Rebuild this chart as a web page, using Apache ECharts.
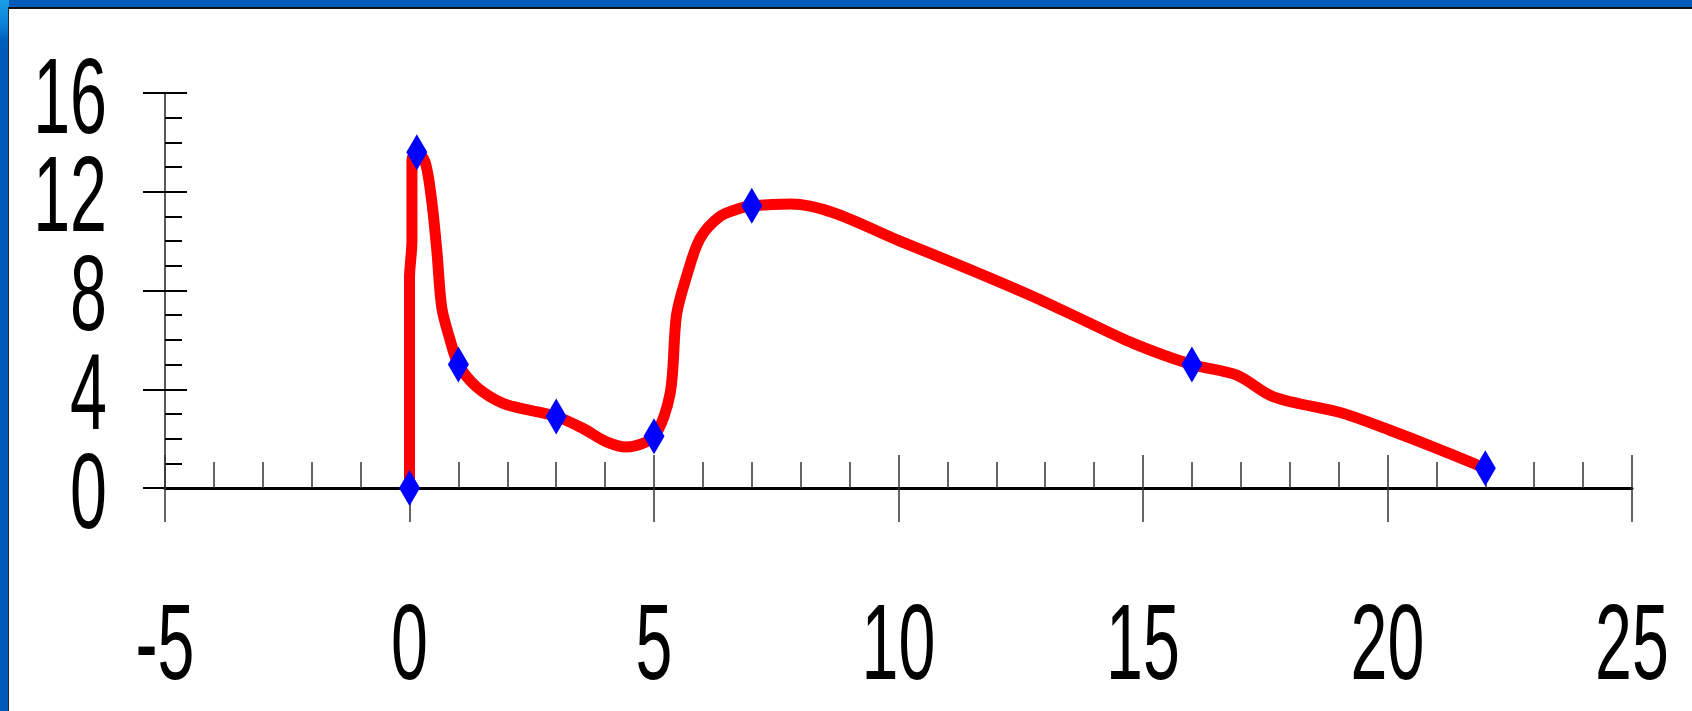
<!DOCTYPE html>
<html>
<head>
<meta charset="utf-8">
<script src="https://cdn.jsdelivr.net/npm/echarts@6/dist/echarts.min.js"></script>
<style>
  html, body { margin: 0; padding: 0; width: 1692px; height: 711px; overflow: hidden; background: #005bbb; }
  #glow { position: absolute; left: 0; top: 0; width: 9px; height: 42px; background: linear-gradient(#1aa0e8, #0a7fd6 60%, #005bbb); }
  #paper { position: absolute; left: 8px; top: 7px; right: 0; bottom: 0; background: #fff;
           border-top: 2px solid #111; border-left: 1px solid #222; }
  #chart { position: absolute; left: 0; top: 0; width: 1692px; height: 711px; }
</style>
</head>
<body>
<div id="glow"></div>
<div id="paper"></div>
<div id="chart"></div>
<script>
// curve (x, y)
const lineX = [0, 0, 0.05, 0.05, 0.15, 0.32, 0.45, 0.56, 0.66, 0.83, 1, 1.37, 1.92, 2.46, 3, 3.55, 4.03, 4.44, 5,
  5.33, 5.46, 5.67, 5.94, 6.35, 6.76, 7, 7.8, 8.67, 10.03, 11.4, 12.76, 13.78, 14.8, 16, 16.92, 17.67, 19.1, 20.05, 20.94, 22];
const lineY = [0, 8.5, 10, 13.3, 13.6, 13.2, 11.7, 9.6, 7.3, 6.0, 5, 4.1, 3.42, 3.15, 2.9, 2.41, 1.87, 1.66, 2.1,
  3.83, 7.0, 8.6, 10.1, 11.0, 11.33, 11.43, 11.5, 11.15, 10.0, 8.9, 7.75, 6.8, 5.86, 5, 4.57, 3.69, 3.02, 2.34, 1.66, 0.8];

// measured points (diamonds)
const markerX = [0, 0.15, 1, 3, 5, 7, 16, 22];
const markerY = [0, 13.6, 5, 2.9, 2.1, 11.43, 5, 0.8];

// axis ranges / tick labels
const xTicks = [-5, 0, 5, 10, 15, 20, 25];
const yTicks = [0, 4, 8, 12, 16];

const chart = echarts.init(document.getElementById('chart'), null, { renderer: 'canvas' });

const labelFont = '"Liberation Sans", Arial, sans-serif';
const xMin = xTicks[0], xMax = xTicks[xTicks.length - 1], xStep = xTicks[1] - xTicks[0];
const yMin = yTicks[0], yMax = yTicks[yTicks.length - 1], yStep = yTicks[1] - yTicks[0];

const baseX = {
  type: 'value', min: xMin, max: xMax, interval: xStep, position: 'bottom',
  splitLine: { show: false }, axisLabel: { show: false }
};
const baseY = {
  type: 'value', min: yMin, max: yMax, interval: yStep, position: 'left',
  splitLine: { show: false }, axisLabel: { show: false }
};

const option = {
  animation: false,
  backgroundColor: 'transparent',
  grid: { left: 165, right: 60, top: 93, bottom: 223 },
  xAxis: [
    {
      ...baseX,
      axisLine: { show: true, onZero: false, lineStyle: { color: '#000', width: 3 } },
      axisTick: { show: true, inside: true, length: 33, lineStyle: { color: '#333', width: 1.5 } },
      minorTick: { show: true, splitNumber: 5, length: 26, lineStyle: { color: '#333', width: 1.5 } }
    },
    {
      ...baseX,
      axisLine: { show: false, onZero: false },
      axisTick: { show: true, inside: false, length: 34, lineStyle: { color: '#333', width: 1.5 } }
    }
  ],
  yAxis: [
    {
      ...baseY,
      axisLine: { show: true, onZero: false, lineStyle: { color: '#222', width: 1.5 } },
      axisTick: { show: true, inside: true, length: 22, lineStyle: { color: '#000', width: 2 } },
      minorTick: { show: true, splitNumber: 4, length: 17, lineStyle: { color: '#000', width: 2 } }
    },
    {
      ...baseY,
      axisLine: { show: false, onZero: false },
      axisTick: { show: true, inside: false, length: 22, lineStyle: { color: '#000', width: 2 } }
    }
  ],
  series: [
    {
      type: 'line',
      data: lineX.map((x, i) => [x, lineY[i]]),
      showSymbol: false,
      symbol: 'none',
      smooth: 0.3,
      lineStyle: { color: '#ff0000', width: 11, join: 'round', cap: 'round' },
      z: 2
    },
    {
      type: 'scatter',
      data: markerX.map((x, i) => [x, markerY[i]]),
      symbol: 'diamond',
      symbolSize: [21, 36],
      itemStyle: { color: '#0000ff', opacity: 1 },
      z: 3
    }
  ]
};

chart.setOption(option);

// tall, narrow tick labels: ordinary text squeezed horizontally, placed with the axis scales
const labelStyle = { fill: '#000', font: '107px ' + labelFont };
const squeeze = 0.62;
const graphics = [];
xTicks.forEach(v => {
  const px = chart.convertToPixel({ xAxisIndex: 0 }, v);
  graphics.push({
    type: 'text', x: px, y: 649, scaleX: squeeze, silent: true,
    style: { ...labelStyle, text: String(v), align: 'center', verticalAlign: 'middle' }
  });
});
yTicks.forEach(v => {
  const py = chart.convertToPixel({ yAxisIndex: 0 }, v);
  graphics.push({
    type: 'text', x: 107, y: py + 10, scaleX: squeeze, silent: true,
    style: { ...labelStyle, text: String(v), align: 'right', verticalAlign: 'middle' }
  });
});
chart.setOption({ graphic: graphics });
</script>
</body>
</html>
